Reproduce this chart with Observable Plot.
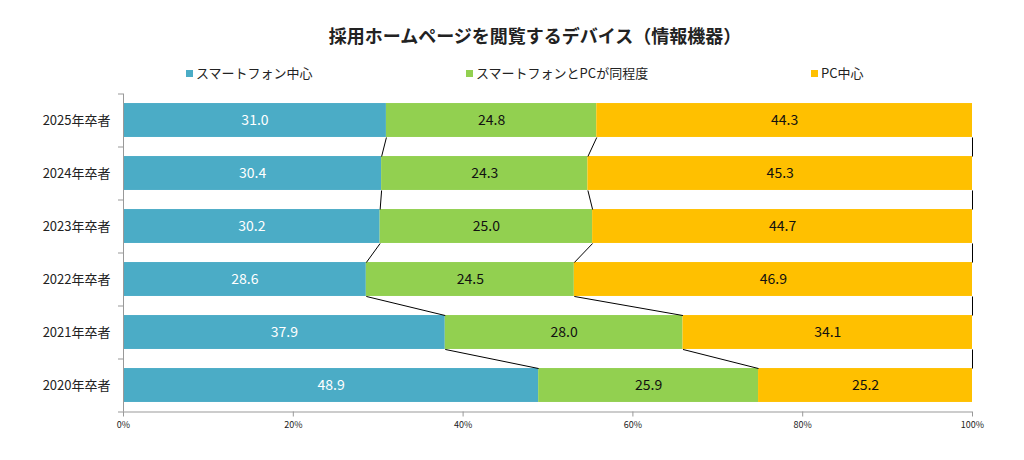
<!DOCTYPE html>
<html><head><meta charset="utf-8">
<script src="https://cdn.jsdelivr.net/npm/d3@7"></script>
<script src="https://cdn.jsdelivr.net/npm/@observablehq/plot@0.6"></script>
<style>
body{margin:0;background:#fff;font-family:"Noto Sans CJK JP","Noto Sans",sans-serif;color:#222;}
#wrap{position:relative;width:1024px;height:460px;overflow:hidden;}
#head{position:relative;height:88px;}
#title{position:absolute;top:22px;left:0;width:1070px;text-align:center;font-weight:bold;font-size:18px;line-height:26px;}
.leg{position:absolute;top:64px;font-size:13px;line-height:18px;display:flex;align-items:center;white-space:nowrap;}
.sw{display:inline-block;width:7px;height:7px;margin-right:3px;}
</style></head>
<body>
<div id="wrap">
<div id="head"><div id="title"></div></div>
<div id="chart"></div>
</div>
<script>
const titleText = "採用ホームページを閲覧するデバイス（情報機器）";
const years = ["2025年卒者","2024年卒者","2023年卒者","2022年卒者","2021年卒者","2020年卒者"];
const smartphone = [31.0, 30.4, 30.2, 28.6, 37.9, 48.9];
const equal = [24.8, 24.3, 25.0, 24.5, 28.0, 25.9];
const pc = [44.3, 45.3, 44.7, 46.9, 34.1, 25.2];
const seriesNames = ["スマートフォン中心","スマートフォンとPCが同程度","PC中心"];
const colors = ["#4BACC6","#92D050","#FFC000"];
const xTicks = [0, 0.2, 0.4, 0.6, 0.8, 1];

document.getElementById("title").textContent = titleText;
const legendLeft = [186, 466, 811];
const head = document.getElementById("head");
seriesNames.forEach((s, k) => {
  const d = document.createElement("div");
  d.className = "leg";
  d.style.left = legendLeft[k] + "px";
  d.innerHTML = `<span class="sw" style="background:${colors[k]}"></span><span>${s}</span>`;
  head.appendChild(d);
});

const series = [smartphone, equal, pc];
const half = 0.32;
const totals = years.map((_, i) => smartphone[i] + equal[i] + pc[i]);
const rows = [];
const cum = [[], [], []];
years.forEach((y, i) => {
  let acc = 0;
  series.forEach((arr, k) => {
    const x1 = acc / totals[i];
    acc += arr[i];
    const x2 = acc / totals[i];
    cum[k].push(x2);
    rows.push({i, year: y, k, series: seriesNames[k], value: arr[i], x1, x2});
  });
});
const links = [];
for (let k = 0; k < 3; k++) {
  for (let i = 0; i < years.length - 1; i++) {
    links.push({x1: cum[k][i], y1: i + half, x2: cum[k][i + 1], y2: i + 1 - half});
  }
}
const boundaries = d3.range(years.length + 1).map(i => i - 0.5);

const chart = Plot.plot({
  width: 1024, height: 372,
  marginLeft: 123, marginRight: 52, marginTop: 5.5, marginBottom: 48.5,
  style: {fontFamily: '"Noto Sans CJK JP","Noto Sans",sans-serif', background: "transparent", color: "#222"},
  x: {domain: [0, 1]},
  y: {domain: [-0.5, years.length - 0.5], reverse: true},
  color: {domain: seriesNames, range: colors},
  marks: [
    Plot.rect(rows, {x1: "x1", x2: "x2", y1: d => d.i - half, y2: d => d.i + half, fill: "series"}),
    Plot.link(links, {x1: "x1", y1: "y1", x2: "x2", y2: "y2", stroke: "#000", strokeWidth: 1}),
    Plot.text(rows, {x: d => (d.x1 + d.x2) / 2, y: "i", text: d => d.value.toFixed(1),
      fill: d => d.k === 0 ? "#fff" : "#111", fontSize: 14}),
    Plot.ruleY([years.length - 0.5], {stroke: "#999"}),
    Plot.ruleX([0], {stroke: "#999"}),
    Plot.axisX({ticks: xTicks, tickFormat: d => Math.round(d * 100) + "%", tickSize: 5, tickPadding: 5,
      stroke: "#999", fill: "#222", fontSize: 9, label: null}),
    Plot.axisY({ticks: boundaries, tickFormat: () => "", tickSize: 5, stroke: "#999", label: null}),
    Plot.axisY({ticks: d3.range(years.length), tickFormat: i => years[i], tickSize: 0, tickPadding: 13,
      fontSize: 13, fill: "#222", label: null})
  ]
});
document.getElementById("chart").appendChild(chart);
</script>
</body></html>
